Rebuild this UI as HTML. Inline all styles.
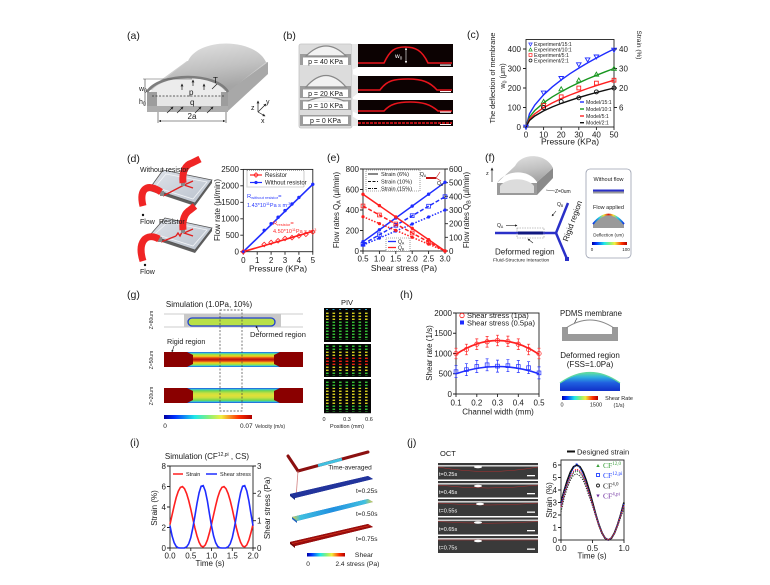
<!DOCTYPE html>
<html><head><meta charset="utf-8"><style>
html,body{margin:0;padding:0;background:#fff}
svg{display:block}
text{font-family:"Liberation Sans",Arial,sans-serif;fill:#1a1a1a}
.t{font-size:8px}
.pl{font-size:10.5px}
.sm{font-size:5.5px}
.sf{font-family:"Liberation Serif",serif}
</style></head><body>
<svg width="770" height="585" viewBox="0 0 770 585" xmlns="http://www.w3.org/2000/svg">
<defs>
<linearGradient id="domeG" x1="0" y1="0" x2="0.3" y2="1"><stop offset="0" stop-color="#e4e4e4"/><stop offset="0.6" stop-color="#c2c2c2"/><stop offset="1" stop-color="#a5a5a5"/></linearGradient>
<linearGradient id="jet"><stop offset="0" stop-color="#0000a0"/><stop offset=".12" stop-color="#0030ff"/><stop offset=".35" stop-color="#20e8e8"/><stop offset=".5" stop-color="#80f080"/><stop offset=".65" stop-color="#f0f040"/><stop offset=".85" stop-color="#ff3000"/><stop offset="1" stop-color="#b00000"/></linearGradient>
<linearGradient id="arcG"><stop offset="0" stop-color="#1030e0"/><stop offset=".2" stop-color="#20d0e0"/><stop offset=".35" stop-color="#f0e030"/><stop offset=".5" stop-color="#e01010"/><stop offset=".65" stop-color="#f0e030"/><stop offset=".8" stop-color="#20d0e0"/><stop offset="1" stop-color="#1030e0"/></linearGradient>
<linearGradient id="g50" x1="0" y1="0" x2="0" y2="1"><stop offset="0" stop-color="#1b3fd9"/><stop offset=".07" stop-color="#2fd0e0"/><stop offset=".16" stop-color="#9be040"/><stop offset=".28" stop-color="#f0d020"/><stop offset=".4" stop-color="#e04010"/><stop offset=".5" stop-color="#b81010"/><stop offset=".6" stop-color="#e04010"/><stop offset=".72" stop-color="#f0d020"/><stop offset=".84" stop-color="#9be040"/><stop offset=".93" stop-color="#2fd0e0"/><stop offset="1" stop-color="#1b3fd9"/></linearGradient>
<linearGradient id="g20" x1="0" y1="0" x2="0" y2="1"><stop offset="0" stop-color="#1b3fd9"/><stop offset=".08" stop-color="#30c0e0"/><stop offset=".18" stop-color="#70d850"/><stop offset=".35" stop-color="#c8e040"/><stop offset=".5" stop-color="#e2e038"/><stop offset=".65" stop-color="#c8e040"/><stop offset=".82" stop-color="#70d850"/><stop offset=".92" stop-color="#30c0e0"/><stop offset="1" stop-color="#1b3fd9"/></linearGradient>
<linearGradient id="heatG" x1="0" y1="0" x2="0" y2="1"><stop offset="0" stop-color="#60e0a0"/><stop offset=".25" stop-color="#30b0e0"/><stop offset=".55" stop-color="#2060e0"/><stop offset="1" stop-color="#1030c8"/></linearGradient>
<linearGradient id="midG"><stop offset="0" stop-color="#e0d040"/><stop offset=".1" stop-color="#40c0e0"/><stop offset=".5" stop-color="#2090e0"/><stop offset=".9" stop-color="#40c0e0"/><stop offset="1" stop-color="#e0d040"/></linearGradient>
<linearGradient id="plateG" x1="0" y1="0" x2="1" y2="1"><stop offset="0" stop-color="#dfe3ea"/><stop offset="1" stop-color="#b9c1cc"/></linearGradient>
<pattern id="dg" width="6.5" height="3" patternUnits="userSpaceOnUse"><rect x="1" y=".6" width="2.6" height="1.3" fill="#3ad13a"/></pattern>
<pattern id="dy" width="6.5" height="3" patternUnits="userSpaceOnUse"><rect x="1" y=".6" width="2.6" height="1.3" fill="#e8e020"/></pattern>
<pattern id="dr" width="6.5" height="3" patternUnits="userSpaceOnUse"><rect x="1" y=".6" width="2.8" height="1.4" fill="#e82010"/></pattern>
<pattern id="dc" width="6.5" height="4" patternUnits="userSpaceOnUse"><rect x="1" y="1" width="2" height="1" fill="#30a0c0"/></pattern>
<marker id="ah" viewBox="0 0 6 6" refX="5" refY="3" markerWidth="4" markerHeight="4" orient="auto-start-reverse"><path d="M0,0L6,3L0,6Z" fill="#222"/></marker>
<marker id="ahw" viewBox="0 0 6 6" refX="5" refY="3" markerWidth="4" markerHeight="4" orient="auto-start-reverse"><path d="M0,0L6,3L0,6Z" fill="#fff"/></marker>
<path id="tdn" d="M-2.3,-1.8L2.3,-1.8L0,2.2Z"/>
<path id="tup" d="M-2.3,1.8L2.3,1.8L0,-2.2Z"/>
<rect id="sq" x="-1.9" y="-1.9" width="3.8" height="3.8"/>
<circle id="ci" r="2"/>
<path id="dia" d="M0,-2.3L2.3,0L0,2.3L-2.3,0Z"/>
</defs>
<rect width="770" height="585" fill="#fff"/>

<!-- ===== (a) ===== -->
<text x="127" y="39" class="pl">(a)</text>
<polygon points="147,90 187,61 268,62 228,91" fill="#cfcfcf"/>
<polygon points="228,91 268,62 268,74 228,111" fill="#a8a8a8"/>
<path d="M148,92 C160,72 216,72 228,92 L266,62 C255,38 199,37 188,61 Z" fill="url(#domeG)"/>
<rect x="147" y="92" width="81" height="20" fill="#c4c4c4"/>
<path d="M150,93 C161,73 215,73 226,93 L226,96 L150,96 Z" fill="#ececec"/>
<rect x="157" y="96" width="64" height="10" fill="#e6e6e6"/>
<rect x="147" y="92" width="10" height="20" fill="#9d9d9d"/>
<rect x="221" y="92" width="7" height="20" fill="#9d9d9d"/>
<rect x="147" y="106" width="81" height="6" fill="#adadad"/>
<path d="M147,92 C160,72 216,72 228,92" stroke="#7d7d7d" stroke-width="2.6" fill="none"/>
<line x1="152" y1="96" x2="225" y2="96" stroke="#333" stroke-dasharray="2,1.5" stroke-width="0.7"/>
<g stroke="#222" stroke-width="0.7" marker-end="url(#ah)">
<line x1="182" y1="90" x2="182" y2="84"/><line x1="193" y1="86" x2="193" y2="80"/><line x1="204" y1="90" x2="204" y2="84"/>
<line x1="167" y1="113" x2="173" y2="107"/><line x1="177" y1="113" x2="183" y2="107"/><line x1="195" y1="113" x2="201" y2="107"/><line x1="207" y1="113" x2="213" y2="107"/>
</g>
<line x1="217" y1="84" x2="212" y2="89" stroke="#222" stroke-width="0.7"/>
<text x="213" y="83" font-size="8">T</text>
<text x="189" y="95" font-size="8">p</text>
<text x="190" y="105" font-size="8">q</text>
<line x1="143" y1="79" x2="192" y2="79" stroke="#555" stroke-width="0.5"/>
<line x1="145" y1="79" x2="145" y2="106" stroke="#333" stroke-width="0.6"/>
<text x="139" y="91" font-size="7">w<tspan font-size="5" dy="1.5">0</tspan></text>
<text x="139" y="104" font-size="7">h<tspan font-size="5" dy="1.5">0</tspan></text>
<line x1="158" y1="112" x2="158" y2="123" stroke="#333" stroke-width="0.6"/>
<line x1="226" y1="112" x2="226" y2="123" stroke="#333" stroke-width="0.6"/>
<line x1="159" y1="121" x2="225" y2="121" stroke="#222" stroke-width="0.6" marker-start="url(#ah)" marker-end="url(#ah)"/>
<text x="192" y="119" font-size="8" text-anchor="middle">2a</text>
<g stroke="#222" stroke-width="0.7" marker-end="url(#ah)"><line x1="258" y1="112" x2="258" y2="101"/><line x1="258" y1="112" x2="266" y2="104"/><line x1="258" y1="112" x2="265" y2="116"/></g>
<text x="251" y="110" font-size="7">z</text><text x="266" y="104" font-size="7">y</text><text x="261" y="123" font-size="7">x</text>

<!-- ===== (b) ===== -->
<text x="283" y="39" class="pl">(b)</text>
<rect x="299" y="44" width="53" height="84" rx="2" fill="#dcdcdc" stroke="#c4c4c4" stroke-width="0.8"/>
<g fill="#e8e8e8"><polygon points="352,44 358,44 358,67 352,70"/><polygon points="352,74 358,76 358,93 352,98"/><polygon points="352,99 358,100 358,114 352,111"/><polygon points="352,116 358,120 358,126 352,126"/></g>
<rect x="300" y="54" width="51" height="11" fill="#9c9c9c"/>
<path d="M306,56 Q326,36 346,56 Z" fill="#f2f2f2" stroke="#888" stroke-width="1.2"/>
<rect x="303" y="57.5" width="45" height="7.5" fill="#fff"/>
<text x="325.5" y="63.8" font-size="7" text-anchor="middle">p = 40 KPa</text>
<rect x="300" y="86" width="51" height="12" fill="#9c9c9c"/>
<path d="M306,87 Q326,64 346,87 Z" fill="#f2f2f2" stroke="#888" stroke-width="1.2"/>
<rect x="303" y="89.5" width="45" height="7.5" fill="#fff"/>
<text x="325.5" y="95.8" font-size="7" text-anchor="middle">p = 20 KPa</text>
<rect x="300" y="100" width="51" height="10" fill="#9c9c9c"/>
<path d="M306,102 Q326,92 346,102 Z" fill="#f2f2f2" stroke="#888" stroke-width="1.2"/>
<rect x="303" y="101.5" width="45" height="7.5" fill="#fff"/>
<text x="325.5" y="107.8" font-size="7" text-anchor="middle">p = 10 KPa</text>
<rect x="300" y="115" width="51" height="11" fill="#9c9c9c"/>
<rect x="303" y="116.5" width="45" height="7.5" fill="#fff"/>
<text x="325.5" y="122.8" font-size="7" text-anchor="middle">p =  0 KPa</text>
<g fill="#0c0202"><rect x="358" y="44" width="95" height="23"/><rect x="358" y="76" width="95" height="17"/><rect x="358" y="100" width="95" height="14"/><rect x="358" y="120" width="95" height="6"/></g>
<g stroke="#e8141c" stroke-width="1.6" fill="none">
<path d="M358,63 L384,63 C390,50 395,47 405,47 C415,47 422,50 428,63 L452,63"/>
<path d="M358,90 L380,90 C387,80 395,79 408,79 C422,79 430,82 437,90 L452,90"/>
<path d="M358,111 L384,111 C390,104 398,102 410,102 C422,102 430,104 438,111 L452,111"/>
<path d="M358,123 L452,123" stroke-dasharray="3,1"/>
</g>
<g fill="#fff"><rect x="440" y="64.5" width="11" height="1.2"/><rect x="440" y="91" width="11" height="1.2"/><rect x="440" y="111.5" width="11" height="1.2"/><rect x="440" y="124" width="11" height="1"/></g>
<line x1="406" y1="48" x2="406" y2="63" stroke="#fff" stroke-width="0.6" marker-start="url(#ahw)" marker-end="url(#ahw)"/>
<text x="395" y="58" font-size="6.5" style="fill:#fff">w<tspan font-size="4.5" dy="1.5">0</tspan></text>

<!-- ===== (c) ===== -->
<text x="467" y="38" class="pl">(c)</text>
<rect x="526" y="39.5" width="88" height="87.5" fill="none" stroke="#222" stroke-width="0.9"/>
<path d="M523,127H526M523,107.5H526M523,88H526M523,68.5H526M523,49H526M614,107.5H617M614,88H617M614,68.5H617M614,49H617M526,127V130M543.6,127V130M561.2,127V130M578.8,127V130M596.4,127V130M614,127V130" stroke="#222" stroke-width="0.9"/>
<g class="t" text-anchor="end"><text x="521" y="130">0</text><text x="521" y="110.5">100</text><text x="521" y="91">200</text><text x="521" y="71.5">300</text><text x="521" y="52">400</text></g>
<g class="t"><text x="619" y="52">40</text><text x="619" y="71.5">30</text><text x="619" y="91">20</text><text x="619" y="110.5">6</text></g>
<g class="t" text-anchor="middle"><text x="526" y="137.5">0</text><text x="543.6" y="137.5">10</text><text x="561.2" y="137.5">20</text><text x="578.8" y="137.5">30</text><text x="596.4" y="137.5">40</text><text x="614" y="137.5">50</text></g>
<text x="570" y="144.5" font-size="8.5" text-anchor="middle">Pressure (KPa)</text>
<text transform="translate(495,78) rotate(-90)" font-size="7.3" text-anchor="middle">The deflection of membrane</text>
<text transform="translate(505,76) rotate(-90)" font-size="7.3" text-anchor="middle">w<tspan font-size="5" dy="1.5">0</tspan><tspan dy="-1.5"> (μm)</tspan></text>
<text transform="translate(637,45) rotate(90)" font-size="6.5" text-anchor="middle">Strain (%)</text>
<g fill="none" stroke-width="1.4">
<polyline stroke="#1f2dff" points="526,127 529.5,113.7 534.8,105 543.6,94.8 552.4,86.8 561.2,79.9 570,73.7 578.8,68.1 587.6,62.9 596.4,58 605.2,53.4 614,49"/>
<polyline stroke="#17961f" points="526,127 529.5,117.1 534.8,110.5 543.6,102.8 552.4,96.8 561.2,91.7 570,87 578.8,82.8 587.6,78.9 596.4,75.3 605.2,71.8 614,68.5"/>
<polyline stroke="#ff2020" points="526,127 529.5,119 534.8,113.8 543.6,107.7 552.4,102.9 561.2,98.7 570,95 578.8,91.7 587.6,88.5 596.4,85.6 605.2,82.8 614,80.2"/>
<polyline stroke="#111" points="526,127 529.5,120.4 534.8,116 543.6,110.9 552.4,106.9 561.2,103.4 570,100.4 578.8,97.6 587.6,94.9 596.4,92.5 605.2,90.2 614,88"/>
</g>
<g fill="none" stroke-width="0.9">
<g stroke="#1f2dff"><use href="#tdn" x="526" y="127"/><use href="#tdn" x="543.6" y="92.9"/><use href="#tdn" x="561.2" y="78.3"/><use href="#tdn" x="578.8" y="64.6"/><use href="#tdn" x="587.6" y="59.7"/><use href="#tdn" x="596.4" y="56.8"/><use href="#tdn" x="614" y="50"/></g>
<g stroke="#17961f"><use href="#tup" x="543.6" y="101.6"/><use href="#tup" x="561.2" y="89"/><use href="#tup" x="578.8" y="80.2"/><use href="#tup" x="596.4" y="74.4"/><use href="#tup" x="614" y="68.5"/></g>
<g stroke="#ff2020"><use href="#sq" x="543.6" y="105.5"/><use href="#sq" x="561.2" y="96.8"/><use href="#sq" x="578.8" y="88"/><use href="#sq" x="596.4" y="83.1"/><use href="#sq" x="614" y="80.2"/></g>
<g stroke="#111"><use href="#ci" x="543.6" y="107.5"/><use href="#ci" x="561.2" y="101.6"/><use href="#ci" x="578.8" y="97.8"/><use href="#ci" x="596.4" y="91.9"/><use href="#ci" x="614" y="88"/></g>
</g>
<g fill="none" stroke-width="0.7">
<path d="M528.8,43 L532.2,43 L530.5,46Z" stroke="#1f2dff"/>
<path d="M528.8,51 L532.2,51 L530.5,48Z" stroke="#17961f"/>
<rect x="529" y="53.5" width="3" height="3" stroke="#ff2020"/>
<circle cx="530.5" cy="60.5" r="1.5" stroke="#111"/>
</g>
<g font-size="5.2"><text x="534" y="46.2">Experiment/15:1</text><text x="534" y="51.7">Experiment/10:1</text><text x="534" y="57.2">Experiment/5:1</text><text x="534" y="62.7">Experiment/2:1</text></g>
<g stroke-width="1.4"><line x1="580" y1="102" x2="584" y2="102" stroke="#1f2dff"/><line x1="580" y1="109" x2="584" y2="109" stroke="#17961f"/><line x1="580" y1="116" x2="584" y2="116" stroke="#ff2020"/><line x1="580" y1="122.7" x2="584" y2="122.7" stroke="#111"/></g>
<g font-size="5.2"><text x="586" y="104">Model/15:1</text><text x="586" y="111">Model/10:1</text><text x="586" y="118">Model/5:1</text><text x="586" y="124.7">Model/2:1</text></g>

<!-- ===== (d) ===== -->
<text x="127" y="162" class="pl">(d)</text>
<polygon points="150,188 195,203 212,180 212,183 195,206 150,191" fill="#5f5f5f"/>
<polygon points="163,170 212,180 195,203 150,188" fill="url(#plateG)" stroke="#555" stroke-width="0.8"/>
<polygon points="166,174 207,182 193,199 155,187" fill="none" stroke="#f2f4f7" stroke-width="0.8"/>
<g stroke="#e02020" stroke-width="1.4" fill="none"><line x1="163" y1="196" x2="184" y2="185"/><line x1="184" y1="185" x2="193" y2="181"/><line x1="184" y1="185" x2="193" y2="188"/></g>
<rect x="160" y="191" width="4" height="5" fill="#888"/>
<rect x="181" y="181" width="4" height="5" fill="#888"/>
<path d="M143,206 C139,190 146,182 161,192" stroke="#f02525" stroke-width="7" fill="none"/>
<path d="M183,183 C182,172 185,165 192,163 L200,159" stroke="#f02525" stroke-width="7" fill="none"/>
<polygon points="150,235 195,250 212,228 212,231 195,253 150,238" fill="#5f5f5f"/>
<polygon points="165,218 212,228 195,250 150,235" fill="url(#plateG)" stroke="#555" stroke-width="0.8"/>
<polygon points="168,222 207,230 193,246 155,234" fill="none" stroke="#f2f4f7" stroke-width="0.8"/>
<g stroke="#e02020" stroke-width="1.4" fill="none"><line x1="161" y1="242" x2="176" y2="236"/><polyline points="176,236 178,233 180,236 182,232 184,233"/><line x1="184" y1="233" x2="193" y2="229"/><line x1="184" y1="233" x2="193" y2="236"/></g>
<rect x="158" y="237" width="4" height="5" fill="#888"/>
<rect x="181" y="228" width="4" height="5" fill="#888"/>
<path d="M143,261 C137,242 146,232 159,239" stroke="#f02525" stroke-width="7" fill="none"/>
<path d="M183,230 C182,219 185,213 190,210 L195,206" stroke="#f02525" stroke-width="7" fill="none"/>
<text x="140" y="172" font-size="7">Without resistor</text>
<circle cx="143" cy="215" r="1.2" fill="#111"/>
<text x="140" y="224" font-size="7">Flow</text>
<text x="159" y="224" font-size="7">Resistor</text>
<circle cx="145" cy="265" r="1.2" fill="#111"/>
<text x="140" y="274" font-size="7">Flow</text>
<rect x="243.3" y="169.4" width="69.5" height="82.3" fill="none" stroke="#222" stroke-width="0.9"/>
<path d="M240.3,251.7H243.3M240.3,235.2H243.3M240.3,218.8H243.3M240.3,202.3H243.3M240.3,185.8H243.3M240.3,169.4H243.3M243.3,251.7V254.7M257.2,251.7V254.7M271.1,251.7V254.7M285,251.7V254.7M298.9,251.7V254.7M312.8,251.7V254.7" stroke="#222" stroke-width="0.9"/>
<g class="t" text-anchor="end"><text x="239" y="254.5">0</text><text x="239" y="238">500</text><text x="239" y="221.6">1000</text><text x="239" y="205.1">1500</text><text x="239" y="188.6">2000</text><text x="239" y="172.2">2500</text></g>
<g class="t" text-anchor="middle"><text x="243.3" y="263">0</text><text x="257.2" y="263">1</text><text x="271.1" y="263">2</text><text x="285" y="263">3</text><text x="298.9" y="263">4</text><text x="312.8" y="263">5</text></g>
<text x="278" y="271.5" font-size="8.5" text-anchor="middle">Pressure (KPa)</text>
<text transform="translate(220,210) rotate(-90)" font-size="8" text-anchor="middle">Flow rate (μl/min)</text>
<rect x="247" y="170.5" width="57" height="16.5" fill="#fff" stroke="#555" stroke-width="0.6" stroke-dasharray="1,1"/>
<line x1="250" y1="175" x2="262" y2="175" stroke="#ff2020" stroke-width="1.2"/><use href="#dia" x="256" y="175" fill="none" stroke="#ff2020" stroke-width="0.8"/>
<line x1="250" y1="182.5" x2="262" y2="182.5" stroke="#1f2dff" stroke-width="1.2"/><circle cx="256" cy="182.5" r="1.6" fill="#1f2dff"/>
<text x="265" y="177" font-size="6">Resistor</text><text x="265" y="184.5" font-size="6">Without resistor</text>
<line x1="243.3" y1="251.7" x2="312.8" y2="184.3" stroke="#1f2dff" stroke-width="1.6"/>
<line x1="243.3" y1="251.7" x2="312.8" y2="231.3" stroke="#ff2020" stroke-width="1.6"/>
<g fill="#1f2dff"><circle cx="243.3" cy="251.7" r="1.7"/><circle cx="264.2" cy="230.3" r="1.7"/><circle cx="271.1" cy="223.7" r="1.7"/><circle cx="278.1" cy="217.2" r="1.7"/><circle cx="285" cy="210.6" r="1.7"/><circle cx="292" cy="204" r="1.7"/><circle cx="298.9" cy="197.4" r="1.7"/><circle cx="312.8" cy="184.3" r="1.7"/></g>
<g fill="none" stroke="#ff2020" stroke-width="0.8"><use href="#dia" x="243.3" y="251.7"/><use href="#dia" x="264.2" y="244.5"/><use href="#dia" x="271.1" y="242.5"/><use href="#dia" x="278.1" y="240.8"/><use href="#dia" x="285" y="238.5"/><use href="#dia" x="292" y="237.6"/><use href="#dia" x="298.9" y="235.9"/><use href="#dia" x="305.9" y="234.3"/><use href="#dia" x="312.8" y="232"/></g>
<text x="247" y="198" font-size="5.8" style="fill:#2a3aff">R<tspan font-size="4" dy="1.2">without resistor</tspan><tspan dy="-1.2">=</tspan></text>
<text x="247" y="207" font-size="5.5" style="fill:#2a3aff">1.43*10<tspan font-size="3.8" dy="-2">11</tspan><tspan dy="2">Pa s m</tspan><tspan font-size="3.8" dy="-2">-3</tspan></text>
<text x="273" y="225" font-size="5.8" style="fill:#ff2a2a">R<tspan font-size="4" dy="1.2">resistor</tspan><tspan dy="-1.2">=</tspan></text>
<text x="273" y="233" font-size="5.5" style="fill:#ff2a2a">4.50*10<tspan font-size="3.8" dy="-2">11</tspan><tspan dy="2">Pa s m</tspan><tspan font-size="3.8" dy="-2">-3</tspan></text>

<!-- ===== (e) ===== -->
<text x="327" y="161" class="pl">(e)</text>
<rect x="363" y="169" width="82" height="82" fill="none" stroke="#222" stroke-width="0.9"/>
<path d="M360,251H363M360,230.5H363M360,210H363M360,189.5H363M360,169H363M445,251H448M445,237.3H448M445,223.7H448M445,210H448M445,196.3H448M445,182.7H448M445,169H448M363,251V254M379.4,251V254M395.8,251V254M412.2,251V254M428.6,251V254M445,251V254" stroke="#222" stroke-width="0.9"/>
<g class="t" text-anchor="end"><text x="359" y="254">0</text><text x="359" y="233.5">200</text><text x="359" y="213">400</text><text x="359" y="192.5">600</text><text x="359" y="172">800</text></g>
<g class="t"><text x="449" y="254">0</text><text x="449" y="240.3">100</text><text x="449" y="226.7">200</text><text x="449" y="213">300</text><text x="449" y="199.3">400</text><text x="449" y="185.7">500</text><text x="449" y="172">600</text></g>
<g class="t" text-anchor="middle"><text x="363" y="261.5">0.5</text><text x="379.4" y="261.5">1.0</text><text x="395.8" y="261.5">1.5</text><text x="412.2" y="261.5">2.0</text><text x="428.6" y="261.5">2.5</text><text x="445" y="261.5">3.0</text></g>
<text x="404" y="271" font-size="8.5" text-anchor="middle">Shear stress (Pa)</text>
<text transform="translate(339,210) rotate(-90)" font-size="7.8" text-anchor="middle">Flow rates Q<tspan font-size="5.5" dy="1.5">A</tspan><tspan dy="-1.5"> (μl/min)</tspan></text>
<text transform="translate(469,210) rotate(-90)" font-size="7.8" text-anchor="middle">Flow rates Q<tspan font-size="5.5" dy="1.5">B</tspan><tspan dy="-1.5"> (μl/min)</tspan></text>
<g stroke-width="1.5" fill="none">
<line x1="363" y1="241.7" x2="445" y2="182.3" stroke="#1f2dff"/>
<line x1="363" y1="244.3" x2="445" y2="196.7" stroke="#1f2dff" stroke-dasharray="4,2"/>
<line x1="363" y1="245.1" x2="445" y2="210" stroke="#1f2dff" stroke-dasharray="1.5,1.5"/>
<line x1="363" y1="194.3" x2="445" y2="251" stroke="#ff2020"/>
<line x1="363" y1="206" x2="445" y2="251" stroke="#ff2020" stroke-dasharray="4,2"/>
<line x1="363" y1="216.7" x2="445" y2="251" stroke="#ff2020" stroke-dasharray="1.5,1.5"/>
</g>
<g fill="#1f2dff"><circle cx="363" cy="241.7" r="1.7"/><circle cx="379.4" cy="229.8" r="1.7"/><circle cx="395.8" cy="218" r="1.7"/><circle cx="412.2" cy="206.1" r="1.7"/><circle cx="428.6" cy="194.2" r="1.7"/><circle cx="445" cy="182.3" r="1.7"/>
<circle cx="363" cy="245.1" r="1.6"/><circle cx="379.4" cy="238.1" r="1.6"/><circle cx="395.8" cy="231" r="1.6"/><circle cx="412.2" cy="224" r="1.6"/><circle cx="428.6" cy="217" r="1.6"/><circle cx="445" cy="210" r="1.6"/></g>
<g fill="none" stroke="#1f2dff" stroke-width="0.8"><use href="#sq" x="363" y="244.3"/><use href="#sq" x="379.4" y="234.8"/><use href="#sq" x="395.8" y="225.3"/><use href="#sq" x="412.2" y="215.7"/><use href="#sq" x="428.6" y="206.2"/><use href="#sq" x="445" y="196.7"/></g>
<g fill="#ff2020"><circle cx="363" cy="194.3" r="1.7"/><circle cx="379.4" cy="205.6" r="1.7"/><circle cx="395.8" cy="217" r="1.7"/><circle cx="412.2" cy="228.3" r="1.7"/><circle cx="428.6" cy="239.7" r="1.7"/><circle cx="445" cy="251" r="1.9"/>
<circle cx="363" cy="216.7" r="1.6"/><circle cx="379.4" cy="223.6" r="1.6"/><circle cx="395.8" cy="230.4" r="1.6"/><circle cx="412.2" cy="237.3" r="1.6"/><circle cx="428.6" cy="244.1" r="1.6"/></g>
<g fill="none" stroke="#ff2020" stroke-width="0.8"><use href="#sq" x="363" y="206"/><use href="#sq" x="379.4" y="215"/><use href="#sq" x="395.8" y="224"/><use href="#sq" x="412.2" y="233"/><use href="#sq" x="428.6" y="242"/></g>
<rect x="366" y="170" width="54" height="21" fill="#fff" fill-opacity="0.85" stroke="#555" stroke-width="0.6" stroke-dasharray="1,1"/>
<g stroke="#111" stroke-width="1"><line x1="368" y1="174" x2="378" y2="174"/><line x1="368" y1="181.5" x2="378" y2="181.5" stroke-dasharray="3,1.5"/><line x1="368" y1="188.5" x2="378" y2="188.5" stroke-dasharray="3,1,1,1"/></g>
<g font-size="5.6"><text x="381" y="176">Strain (6%)</text><text x="381" y="183.5">Strain (10%)</text><text x="381" y="190.5">Strain (15%)</text></g>
<text x="420" y="176" font-size="5">Q<tspan font-size="3.5" dy="1">A</tspan></text>
<line x1="426" y1="178" x2="436" y2="178" stroke="#c01010" stroke-width="2"/>
<g stroke="#c01010" stroke-width="0.6"><line x1="436" y1="178" x2="440" y2="172"/><line x1="436" y1="178" x2="441" y2="181"/></g>
<text x="437" y="185" font-size="5">Q<tspan font-size="3.5" dy="1">B</tspan></text>
<rect x="386" y="238" width="24" height="13" fill="#fff" stroke="#555" stroke-width="0.6" stroke-dasharray="1,1"/>
<line x1="388" y1="241.5" x2="396" y2="241.5" stroke="#1f2dff" stroke-width="1.3"/>
<line x1="388" y1="247.5" x2="396" y2="247.5" stroke="#ff2020" stroke-width="1.3"/>
<text x="398" y="243.5" font-size="5">Q<tspan font-size="3.5" dy="1">A</tspan></text>
<text x="398" y="249.5" font-size="5">Q<tspan font-size="3.5" dy="1">B</tspan></text>

<!-- ===== (f) ===== -->
<text x="485" y="161" class="pl">(f)</text>
<line x1="492" y1="182" x2="492" y2="168" stroke="#222" stroke-width="0.7" marker-end="url(#ah)"/>
<text x="486" y="175" font-size="5.5">z</text>
<polygon points="537,182 553,168 553,178 537,195" fill="#8a8a8a"/>
<path d="M497,183 C505,170 528,168 537,182 L553,168 C546,153 522,152 515,166 Z" fill="url(#domeG)"/>
<rect x="497" y="183" width="40" height="12" fill="#9a9a9a"/>
<path d="M500,193 L500,186 C507,177 527,177 534,186 L534,193 Z" fill="#dcdcdc"/>
<line x1="546" y1="190" x2="555" y2="191" stroke="#444" stroke-width="0.5"/>
<text x="555" y="193" font-size="5">Z=0um</text>
<g stroke="#2a30c8" stroke-width="2.5" fill="none"><polyline points="495,233 556,233 568,203"/><line x1="556" y1="233" x2="567" y2="259"/></g>
<line x1="518" y1="233" x2="543" y2="233" stroke="#101880" stroke-width="3"/>
<rect x="565" y="257" width="4" height="4" fill="#2a30c8"/>
<rect x="517" y="228" width="27" height="10" fill="none" stroke="#888" stroke-width="0.6" stroke-dasharray="1.5,1"/>
<text x="497" y="227" font-size="5">Q<tspan font-size="3.5" dy="1">A</tspan></text>
<line x1="506" y1="225.5" x2="517" y2="225.5" stroke="#222" stroke-width="0.6" marker-end="url(#ah)"/>
<text x="557" y="206" font-size="5">Q<tspan font-size="3.5" dy="1">B</tspan></text>
<line x1="556" y1="211" x2="552" y2="216" stroke="#222" stroke-width="0.6" marker-end="url(#ah)"/>
<line x1="533" y1="243" x2="528" y2="239" stroke="#222" stroke-width="0.6" marker-end="url(#ah)"/>
<text transform="translate(575,222) rotate(-70)" font-size="8" text-anchor="middle">Rigid region</text>
<text x="495" y="254.5" font-size="8">Deformed region</text>
<text x="493" y="261.5" font-size="4.9">Fluid-Structure Interaction</text>
<rect x="586" y="169" width="45" height="89" rx="4" fill="none" stroke="#9aa0b0" stroke-width="0.8"/>
<text x="608.5" y="181" font-size="5.5" text-anchor="middle">Without flow</text>
<rect x="593" y="189.5" width="31" height="2" fill="#2a30c8"/><rect x="593" y="191.5" width="31" height="2" fill="#999"/>
<text x="608.5" y="209" font-size="5.5" text-anchor="middle">Flow applied</text>
<path d="M593,228 L593,224 Q608.5,205 624,224 L624,228 Z" fill="#9a9a9a"/>
<path d="M593,224 Q608.5,205 624,224" stroke="url(#arcG)" stroke-width="1.8" fill="none"/>
<text x="608.5" y="236.5" font-size="4.5" text-anchor="middle">Deflection (um)</text>
<rect x="592" y="242" width="35" height="3" fill="url(#jet)"/>
<text x="592" y="251" font-size="4.5" text-anchor="middle">0</text><text x="626" y="251" font-size="4.5" text-anchor="middle">100</text>

<!-- ===== (g) ===== -->
<text x="127" y="298" class="pl">(g)</text>
<text x="209" y="307" font-size="8" text-anchor="middle">Simulation (1.0Pa, 10%)</text>
<g font-size="5" text-anchor="middle"><text transform="translate(153,320) rotate(-90)">Z=80um</text><text transform="translate(153,360) rotate(-90)">Z=50um</text><text transform="translate(153,396) rotate(-90)">Z=20um</text></g>
<line x1="164" y1="314" x2="303" y2="314" stroke="#bbb" stroke-width="0.8"/><line x1="164" y1="327" x2="303" y2="327" stroke="#bbb" stroke-width="0.8"/>
<rect x="184" y="314" width="97" height="13" fill="#c8c8c8"/>
<rect x="188" y="318" width="87" height="8" rx="4" fill="#b8e048" stroke="#1f3fd0" stroke-width="1.3"/>
<line x1="259" y1="332" x2="256" y2="326" stroke="#222" stroke-width="0.6" marker-end="url(#ah)"/>
<text x="250" y="337" font-size="7.5">Deformed region</text>
<text x="167" y="344" font-size="7.2">Rigid region</text>
<line x1="174" y1="346" x2="172" y2="352" stroke="#222" stroke-width="0.6" marker-end="url(#ah)"/>
<rect x="164" y="352" width="139" height="15" fill="url(#g50)"/>
<polygon points="164,352 187,352 193,355 193,364 187,367 164,367" fill="#8a0000"/>
<polygon points="303,352 280,352 274,355 274,364 280,367 303,367" fill="#8a0000"/>
<rect x="164" y="388" width="139" height="15" fill="url(#g20)"/>
<polygon points="164,388 187,388 193,391 193,400 187,403 164,403" fill="#8a0000"/>
<polygon points="303,388 280,388 274,391 274,400 280,403 303,403" fill="#8a0000"/>
<rect x="220" y="310" width="22" height="101" fill="none" stroke="#444" stroke-width="0.7" stroke-dasharray="2,1.5"/>
<rect x="164" y="415" width="88" height="4" fill="url(#jet)"/>
<text x="165" y="428" font-size="6.5" text-anchor="middle">0</text>
<text x="240" y="428" font-size="6.5">0.07</text>
<text x="255" y="428" font-size="5">Velocity (m/s)</text>
<text x="347" y="305" font-size="7.5" text-anchor="middle">PIV</text>
<rect x="324" y="308" width="47" height="34" fill="#050505"/>
<rect x="324" y="344" width="47" height="33" fill="#050505"/>
<rect x="324" y="379" width="47" height="34" fill="#050505"/>
<rect x="324" y="308" width="47" height="4" fill="url(#dc)"/>
<rect x="324" y="312" width="47" height="9" fill="url(#dy)"/>
<rect x="324" y="321" width="47" height="10" fill="url(#dg)"/>
<rect x="324" y="331" width="47" height="9" fill="url(#dg)"/>
<rect x="324" y="345" width="47" height="6" fill="url(#dg)"/>
<rect x="324" y="351" width="47" height="5" fill="url(#dy)"/>
<rect x="324" y="356" width="47" height="10" fill="url(#dr)"/>
<rect x="324" y="366" width="47" height="5" fill="url(#dy)"/>
<rect x="324" y="371" width="47" height="5" fill="url(#dg)"/>
<rect x="324" y="380" width="47" height="8" fill="url(#dg)"/>
<rect x="324" y="388" width="47" height="16" fill="url(#dy)"/>
<rect x="324" y="404" width="47" height="8" fill="url(#dg)"/>
<line x1="324" y1="413" x2="371" y2="413" stroke="#222" stroke-width="0.6"/>
<g font-size="5.5" text-anchor="middle"><text x="324" y="421">0</text><text x="347" y="421">0.3</text><text x="369" y="421">0.6</text><text x="347" y="428">Position (mm)</text></g>

<!-- ===== (h) ===== -->
<text x="400" y="298" class="pl">(h)</text>
<rect x="456" y="313" width="83" height="81" fill="none" stroke="#222" stroke-width="0.9"/>
<path d="M453,394H456M453,373.75H456M453,353.5H456M453,333.25H456M453,313H456M456,394V397M476.8,394V397M497.5,394V397M518.3,394V397M539,394V397" stroke="#222" stroke-width="0.9"/>
<g class="t" text-anchor="end"><text x="452" y="397">0</text><text x="452" y="376.7">500</text><text x="452" y="356.5">1000</text><text x="452" y="336.2">1500</text><text x="452" y="316">2000</text></g>
<g class="t" text-anchor="middle"><text x="456" y="405.5">0.1</text><text x="476.8" y="405.5">0.2</text><text x="497.5" y="405.5">0.3</text><text x="518.3" y="405.5">0.4</text><text x="539" y="405.5">0.5</text></g>
<text x="498" y="414.5" font-size="8" text-anchor="middle">Channel width (mm)</text>
<text transform="translate(432,353) rotate(-90)" font-size="8" text-anchor="middle">Shear rate (1/s)</text>
<path d="M456,354.3 Q497.5,326.7 539,354.3" stroke="#ff2020" stroke-width="1.6" fill="none"/>
<path d="M456,373.8 Q497.5,359.2 539,373.8" stroke="#1f2dff" stroke-width="1.6" fill="none"/>
<g stroke="#ff2020" stroke-width="0.7" fill="none">
<path d="M456,348.2V358.8M454.5,348.2H457.5M454.5,358.8H457.5M466.4,344.2V354.8M464.9,344.2H467.9M464.9,354.8H467.9M476.8,338.9V349.5M475.3,338.9H478.3M475.3,349.5H478.3M487.1,336.5V347.1M485.6,336.5H488.6M485.6,347.1H488.6M497.5,335.2V345.8M496,335.2H499M496,345.8H499M507.9,336.1V346.7M506.4,336.1H509.4M506.4,346.7H509.4M518.3,338.9V349.5M516.8,338.9H519.8M516.8,349.5H519.8M528.6,344.2V354.8M527.1,344.2H530.1M527.1,354.8H530.1M539,348.2V358.8M537.5,348.2H540.5M537.5,358.8H540.5"/>
<circle cx="456" cy="353.5" r="2.2"/><circle cx="466.4" cy="349.5" r="2.2"/><circle cx="476.8" cy="344.2" r="2.2"/><circle cx="487.1" cy="341.8" r="2.2"/><circle cx="497.5" cy="340.5" r="2.2"/><circle cx="507.9" cy="341.4" r="2.2"/><circle cx="518.3" cy="344.2" r="2.2"/><circle cx="528.6" cy="349.5" r="2.2"/><circle cx="539" cy="353.5" r="2.2"/>
</g>
<g stroke="#1f2dff" stroke-width="0.7" fill="none">
<path d="M456,365.7V377.7M454.5,365.7H457.5M454.5,377.7H457.5M466.4,363.7V375.7M464.9,363.7H467.9M464.9,375.7H467.9M476.8,360.5V372.5M475.3,360.5H478.3M475.3,372.5H478.3M487.1,358.8V370.8M485.6,358.8H488.6M485.6,370.8H488.6M497.5,360.1V372.1M496,360.1H499M496,372.1H499M507.9,359.7V371.7M506.4,359.7H509.4M506.4,371.7H509.4M518.3,360.5V372.5M516.8,360.5H519.8M516.8,372.5H519.8M528.6,361.7V373.7M527.1,361.7H530.1M527.1,373.7H530.1M539,366.9V378.9M537.5,366.9H540.5M537.5,378.9H540.5"/>
<use href="#sq" x="456" y="371.7"/><use href="#sq" x="466.4" y="369.7"/><use href="#sq" x="476.8" y="366.5"/><use href="#sq" x="487.1" y="364.8"/><use href="#sq" x="497.5" y="366.1"/><use href="#sq" x="507.9" y="365.7"/><use href="#sq" x="518.3" y="366.5"/><use href="#sq" x="528.6" y="367.7"/><use href="#sq" x="539" y="372.9"/>
</g>
<circle cx="462" cy="315.5" r="2.2" fill="none" stroke="#ff2020" stroke-width="0.8"/>
<rect x="460" y="320.5" width="4" height="4" fill="#1f2dff"/>
<text x="467" y="318" font-size="7.5">Shear stress (1pa)</text>
<text x="467" y="325.5" font-size="7.5">Shear stress (0.5pa)</text>
<text x="591" y="316" font-size="7.8" text-anchor="middle">PDMS membrane</text>
<line x1="577" y1="318" x2="574" y2="324" stroke="#222" stroke-width="0.6"/>
<path d="M562,327 L568,327 L568,334 L612,334 L612,327 L618,327 L618,341 L562,341 Z" fill="#9a9a9a"/>
<path d="M566,328 Q590,312 614,328" stroke="#888" stroke-width="1" fill="none"/>
<text x="590" y="358" font-size="8" text-anchor="middle">Deformed region</text>
<text x="590" y="367" font-size="8" text-anchor="middle">(FSS=1.0Pa)</text>
<path d="M560,391 L560,383 Q590,362 620,383 L620,391 Z" fill="url(#heatG)"/>
<path d="M560,383 Q590,362 620,383" stroke="#60d8a0" stroke-width="1.3" fill="none"/>
<rect x="562" y="396" width="36" height="4" fill="url(#jet)"/>
<text x="562" y="406.5" font-size="5.5" text-anchor="middle">0</text>
<text x="596" y="406.5" font-size="5.5" text-anchor="middle">1500</text>
<text x="619" y="400" font-size="5.5" text-anchor="middle">Shear Rate</text>
<text x="619" y="407" font-size="5.5" text-anchor="middle">(1/s)</text>

<!-- ===== (i) ===== -->
<text x="130" y="446" class="pl">(i)</text>
<text x="207" y="459" font-size="8" text-anchor="middle">Simulation (CF<tspan font-size="5" dy="-3">12,pi</tspan><tspan dy="3"> , CS)</tspan></text>
<rect x="170" y="466" width="83" height="82" fill="none" stroke="#222" stroke-width="0.9"/>
<path d="M167,548H170M167,527.5H170M167,507H170M167,486.5H170M167,466H170M253,548H256M253,520.7H256M253,493.3H256M253,466H256M170,548V551M190.8,548V551M211.5,548V551M232.3,548V551M253,548V551" stroke="#222" stroke-width="0.9"/>
<g class="t" text-anchor="end"><text x="166" y="551">0</text><text x="166" y="530.5">2</text><text x="166" y="510">4</text><text x="166" y="489.5">6</text><text x="166" y="469">8</text></g>
<g class="t"><text x="257" y="551">0</text><text x="257" y="523.7">1</text><text x="257" y="496.3">2</text><text x="257" y="469">3</text></g>
<g class="t" text-anchor="middle"><text x="170" y="558.5">0.0</text><text x="190.8" y="558.5">0.5</text><text x="211.5" y="558.5">1.0</text><text x="232.3" y="558.5">1.5</text><text x="253" y="558.5">2.0</text></g>
<text x="210" y="566" font-size="8" text-anchor="middle">Time (s)</text>
<text transform="translate(157,508) rotate(-90)" font-size="8" text-anchor="middle">Strain (%)</text>
<text transform="translate(270,508) rotate(-90)" font-size="8" text-anchor="middle">Shear stress (Pa)</text>
<polyline fill="none" stroke="#ff2020" stroke-width="1.6" points="170,524.3 172.1,514.8 174.2,505.6 176.2,497.5 178.3,491.2 180.4,487.4 182.5,486.6 184.5,488.7 186.6,493.5 188.7,500.5 190.8,509.2 192.8,518.6 194.9,527.9 197,536 199.1,542.3 201.1,546 203.2,546.9 205.3,544.9 207.4,540 209.4,532.9 211.5,524.3 213.6,514.8 215.7,505.6 217.7,497.5 219.8,491.2 221.9,487.4 224,486.6 226,488.7 228.1,493.5 230.2,500.5 232.3,509.2 234.3,518.6 236.4,527.9 238.5,536 240.6,542.3 242.6,546 244.7,546.9 246.8,544.9 248.9,540 250.9,532.9 253,524.3"/>
<polyline fill="none" stroke="#1f2dff" stroke-width="1.6" points="170,525.8 172.1,536 174.2,542.8 176.2,546.4 178.3,547.8 180.4,548 182.5,548 184.5,547.9 186.6,546.9 188.7,543.8 190.8,537.6 192.8,528.1 194.9,516.1 197,503.4 199.1,492.7 201.1,486.3 203.2,485.6 205.3,491 207.4,501 209.4,513.5 211.5,525.8 213.6,536 215.7,542.8 217.7,546.4 219.8,547.8 221.9,548 224,548 226,547.9 228.1,546.9 230.2,543.8 232.3,537.6 234.3,528.1 236.4,516.1 238.5,503.4 240.6,492.7 242.6,486.3 244.7,485.6 246.8,491 248.9,501 250.9,513.5 253,525.8"/>
<line x1="173" y1="474" x2="183" y2="474" stroke="#ff2020" stroke-width="1.5"/>
<text x="186" y="476" font-size="5.5">Strain</text>
<line x1="206" y1="474" x2="217" y2="474" stroke="#1f2dff" stroke-width="1.5"/>
<text x="220" y="476" font-size="5.5">Shear stress</text>
<g stroke="#8b1010" stroke-width="3" fill="none" stroke-linecap="round"><line x1="298" y1="471" x2="288" y2="456"/><line x1="298" y1="471" x2="368" y2="452"/></g>
<line x1="318" y1="465.6" x2="342" y2="459.2" stroke="#40c0e0" stroke-width="3"/>
<line x1="298" y1="471" x2="296" y2="498" stroke="#d08080" stroke-width="0.8"/>
<text x="350" y="469.5" font-size="6.5" text-anchor="middle">Time-averaged</text>
<polygon points="290,494 368,476 373,479 295,498 295,500 290,496" fill="#1a2a8a"/>
<polygon points="290,494 368,476 373,479 295,498" fill="#22349c"/>
<polygon points="292,517 368,499 373,502 297,521 297,523 292,519" fill="#2060c0"/>
<polygon points="292,517 368,499 373,502 297,521" fill="url(#midG)"/>
<polygon points="290,542 368,524 373,527 295,546 295,548 290,544" fill="#700808"/>
<polygon points="290,542 368,524 373,527 295,546" fill="#9a0c0c"/>
<line x1="292" y1="543.5" x2="370" y2="525.5" stroke="#e04020" stroke-width="0.6"/>
<g font-size="6.5"><text x="356" y="493">t=0.25s</text><text x="356" y="516">t=0.50s</text><text x="356" y="541">t=0.75s</text></g>
<rect x="307" y="553" width="38" height="3.5" fill="url(#jet)"/>
<text x="308" y="566" font-size="6.5" text-anchor="middle">0</text>
<text x="340" y="566" font-size="6.5" text-anchor="middle">2.4</text>
<text x="364" y="557" font-size="6.8" text-anchor="middle">Shear</text>
<text x="363" y="566" font-size="6.8" text-anchor="middle">stress (Pa)</text>

<!-- ===== (j) ===== -->
<text x="407" y="446" class="pl">(j)</text>
<text x="440" y="456" font-size="7.5">OCT</text>
<g fill="#3a3a3a"><rect x="438" y="463" width="100" height="16.5"/><rect x="438" y="481" width="100" height="16.5"/><rect x="438" y="499" width="100" height="17"/><rect x="438" y="517.5" width="100" height="17"/><rect x="438" y="536" width="100" height="17"/></g>
<g fill="#cfcfcf"><rect x="438" y="465" width="100" height="1.6"/><rect x="438" y="483" width="100" height="1.6"/><rect x="438" y="501" width="100" height="1.6"/><rect x="438" y="519.5" width="100" height="1.6"/><rect x="438" y="538" width="100" height="1.6"/></g>
<g stroke="#b03030" stroke-width="0.5" fill="none"><path d="M438,467 Q488,476 538,467"/><path d="M438,485 Q488,491 538,485"/><path d="M438,503 Q488,507 538,503"/><path d="M438,521.5 Q488,525 538,521.5"/><path d="M438,540 Q488,540 538,540"/></g>
<g fill="#fff"><ellipse cx="478" cy="467" rx="4" ry="1.2"/><ellipse cx="478" cy="486" rx="4" ry="1.2"/><ellipse cx="480" cy="504" rx="4" ry="1.2"/><ellipse cx="478" cy="522.5" rx="4" ry="1.2"/><ellipse cx="478" cy="541" rx="4" ry="1.2"/></g>
<g font-size="5.5"><text x="439" y="476" style="fill:#fff">t=0.25s</text><text x="439" y="494" style="fill:#fff">t=0.45s</text><text x="439" y="512.5" style="fill:#fff">t=0.55s</text><text x="439" y="531" style="fill:#fff">t=0.65s</text><text x="439" y="549.5" style="fill:#fff">t=0.75s</text></g>
<g fill="#fff"><rect x="527" y="475" width="8" height="1.3"/><rect x="527" y="493" width="8" height="1.3"/><rect x="527" y="511.5" width="8" height="1.3"/><rect x="527" y="530" width="8" height="1.3"/><rect x="527" y="548.5" width="8" height="1.3"/></g>
<rect x="561" y="460" width="63" height="80" fill="none" stroke="#222" stroke-width="0.9"/>
<path d="M558,540H561M558,527.5H561M558,515H561M558,502.5H561M558,490H561M558,477.5H561M558,465H561M561,540V543M592.5,540V543M624,540V543" stroke="#222" stroke-width="0.9"/>
<g class="t" text-anchor="end"><text x="557" y="543">0</text><text x="557" y="530.5">1</text><text x="557" y="518">2</text><text x="557" y="505.5">3</text><text x="557" y="493">4</text><text x="557" y="480.5">5</text><text x="557" y="468">6</text></g>
<g class="t" text-anchor="middle"><text x="561" y="551">0.0</text><text x="592.5" y="551">0.5</text><text x="624" y="551">1.0</text></g>
<text x="592" y="558.5" font-size="8" text-anchor="middle">Time (s)</text>
<text transform="translate(552,500) rotate(-90)" font-size="8" text-anchor="middle">Strain (%)</text>
<line x1="567" y1="451.5" x2="575" y2="451.5" stroke="#111" stroke-width="2"/>
<text x="577" y="454.5" font-size="7.5">Designed strain</text>
<polyline fill="none" stroke="#111" stroke-width="1.8" points="561,502.5 564.15,490.9 567.3,480.5 570.45,472.2 573.6,466.8 576.75,465 579.9,466.8 583.05,472.2 586.2,480.5 589.35,490.9 592.5,502.5 595.65,514.1 598.8,524.5 601.95,532.8 605.1,538.2 608.25,540 611.4,538.2 614.55,532.8 617.7,524.5 620.85,514.1 624,502.5"/>
<g stroke-width="1" fill="none">
<polyline stroke="#3aa03a" stroke-dasharray="1.2,1.3" points="561,509 564.15,496 567.3,486 570.45,478 573.6,473 576.75,471 579.9,473 583.05,478 586.2,486 589.35,495 592.5,505 595.65,515 598.8,525 601.95,533 605.1,538 608.25,540 611.4,538 614.55,533 617.7,525 620.85,516 624,506"/>
<polyline stroke="#2040ff" stroke-dasharray="1.2,1.3" points="561,504 564.15,492 567.3,483 570.45,474 573.6,468 576.75,463 579.9,468 583.05,474 586.2,483 589.35,493 592.5,504 595.65,514 598.8,524 601.95,533 605.1,538 608.25,540 611.4,538 614.55,533 617.7,524 620.85,514 624,503"/>
<polyline stroke="#ff2020" stroke-dasharray="1.2,1.3" points="561,507 564.15,494 567.3,484 570.45,476 573.6,471 576.75,469 579.9,471 583.05,476 586.2,484 589.35,494 592.5,504 595.65,515 598.8,525 601.95,533 605.1,538 608.25,540 611.4,538 614.55,533 617.7,525 620.85,515 624,505"/>
<polyline stroke="#222" stroke-dasharray="1.2,1.3" points="561,512 564.15,498 567.3,488 570.45,480 573.6,475 576.75,474 579.9,476 583.05,480 586.2,488 589.35,497 592.5,506 595.65,516 598.8,526 601.95,534 605.1,538 608.25,540 611.4,538 614.55,533 617.7,526 620.85,517 624,508"/>
<polyline stroke="#7030a0" stroke-dasharray="1.2,1.3" points="561,508 564.15,495 567.3,485 570.45,477 573.6,472 576.75,470 579.9,472 583.05,477 586.2,485 589.35,495 592.5,505 595.65,515 598.8,525 601.95,533 605.1,538 608.25,540 611.4,538 614.55,533 617.7,525 620.85,515 624,506"/>
</g>
<path d="M596.3,467 L599.7,467 L598,464Z" fill="#3aa03a"/>
<rect x="596.5" y="473.5" width="3" height="3" fill="none" stroke="#2040ff" stroke-width="0.9"/>
<circle cx="598" cy="485.5" r="1.5" fill="none" stroke="#222" stroke-width="0.9"/>
<path d="M596.3,494.5 L599.7,494.5 L598,497.5Z" fill="#7030a0"/>
<g font-size="7.5">
<text x="603" y="468" class="sf" style="fill:#3aa03a">CF<tspan font-size="5" dy="-3">12,0</tspan></text>
<text x="603" y="478" class="sf" style="fill:#2040ff">CF<tspan font-size="5" dy="-3">12,pi</tspan></text>
<text x="603" y="488.5" class="sf" style="fill:#222">CF<tspan font-size="5" dy="-3">4,0</tspan></text>
<text x="603" y="498.5" class="sf" style="fill:#7030a0">CF<tspan font-size="5" dy="-3">4,pi</tspan></text>
</g>
</svg>
</body></html>
